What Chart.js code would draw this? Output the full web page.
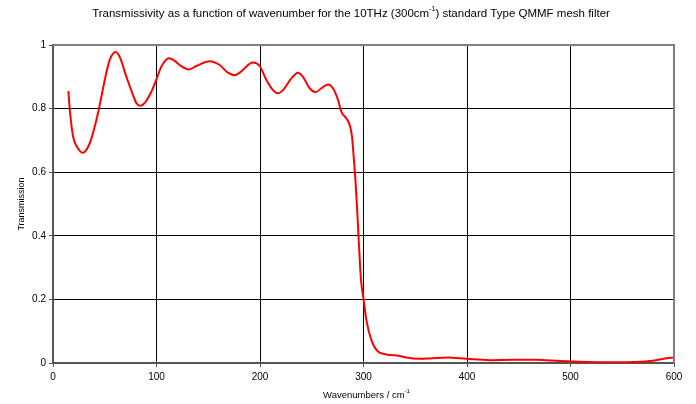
<!DOCTYPE html>
<html lang="en">
<head>
  <meta charset="UTF-8">
  <title>QMMF mesh filter transmission</title>
  <script src="https://cdn.jsdelivr.net/npm/chart.js"></script>
  <style>
    html, body { margin: 0; padding: 0; background: #fff; }
    #wrap { width: 696px; height: 404px; position: relative; }
  </style>
</head>
<body>
<div id="wrap"><canvas id="filterChart"></canvas></div>
<script>
// wavenumber (cm^-1) and transmission
const wavenumbers = [
  14.9, 16.1, 19.3, 23.2, 29, 35.5, 40.3, 44.5, 50, 54.8, 60.6, 65.1, 70.9, 76.7, 80.6, 84.4,
  89.6, 95, 99.9, 104.7, 112.1, 117.6, 122.4, 131.4, 138.5, 151.4, 161, 169, 175.6, 180.4,
  193.2, 199.7, 206.2, 212.6, 217.4, 222.2, 230.3, 236.7, 241.5, 248, 253.8, 259.3, 265.7,
  270.5, 275.4, 278.6, 283.5, 286.7, 288.9, 290.5, 292.2, 293.7, 295.7, 297.6, 300.2, 302.8,
  307.6, 314, 322.1, 335, 341.4, 354.3, 364, 381.6, 399.4, 422, 444.4, 467, 489.6, 515.4,
  537.9, 560.4, 579.7, 592.6, 600
];
const transmission = [
  0.855, 0.801, 0.714, 0.680, 0.661, 0.691, 0.743, 0.801, 0.890, 0.953, 0.978, 0.958, 0.900, 0.848, 0.817, 0.809,
  0.822, 0.853, 0.892, 0.932, 0.958, 0.950, 0.937, 0.923, 0.934, 0.949, 0.937, 0.913, 0.905, 0.913,
  0.945, 0.934, 0.890, 0.858, 0.848, 0.858, 0.895, 0.913, 0.900, 0.864, 0.852, 0.864, 0.876,
  0.864, 0.827, 0.790, 0.769, 0.748, 0.712, 0.649, 0.575, 0.492, 0.366, 0.261, 0.198, 0.135,
  0.072, 0.036, 0.027, 0.022, 0.017, 0.013, 0.014, 0.017, 0.013, 0.009, 0.010, 0.010, 0.006, 0.003,
  0.002, 0.003, 0.007, 0.015, 0.017
];
const xTicks = [0, 100, 200, 300, 400, 500, 600];
const yTicks = [0, 0.2, 0.4, 0.6, 0.8, 1];

const titleParts = ['Transmissivity as a function of wavenumber for the 10THz (300cm', '-1', ') standard Type QMMF mesh filter'];
const xTitleParts = ['Wavenumbers / cm', '-1', ''];
const yTitle = 'Transmission';

const FONT = '"Liberation Sans", Arial, sans-serif';

// draws a line of text with a superscript middle part, centred on cx
function drawSup(ctx, parts, cx, cy, size) {
  ctx.save();
  ctx.fillStyle = '#000';
  ctx.textBaseline = 'middle';
  ctx.textAlign = 'left';
  const big = size + 'px ' + FONT;
  const small = Math.round(size * 0.65) + 'px ' + FONT;
  ctx.font = big;
  const w0 = ctx.measureText(parts[0]).width;
  const w2 = ctx.measureText(parts[2]).width;
  ctx.font = small;
  const w1 = ctx.measureText(parts[1]).width;
  let x = cx - (w0 + w1 + w2) / 2;
  ctx.font = big;
  ctx.fillText(parts[0], x, cy);
  x += w0;
  ctx.font = small;
  ctx.fillText(parts[1], x, cy - size * 0.4);
  x += w1;
  ctx.font = big;
  ctx.fillText(parts[2], x, cy);
  ctx.restore();
}

const labelsPlugin = {
  id: 'labels',
  afterDraw(chart) {
    const ctx = chart.ctx;
    const a = chart.chartArea;
    // grey frame on top and right like the original
    ctx.save();
    ctx.strokeStyle = '#808080';
    ctx.lineWidth = 2;
    ctx.beginPath();
    ctx.moveTo(a.left, a.top);
    ctx.lineTo(a.right, a.top);
    ctx.lineTo(a.right, a.bottom);
    ctx.stroke();
    ctx.restore();

    drawSup(ctx, titleParts, 351, 14, 11.5);
    drawSup(ctx, xTitleParts, (a.left + a.right) / 2 + 3, 395, 9.5);

    ctx.save();
    ctx.fillStyle = '#000';
    ctx.font = '9px ' + FONT;
    ctx.textAlign = 'center';
    ctx.textBaseline = 'middle';
    ctx.translate(22, (a.top + a.bottom) / 2);
    ctx.rotate(-Math.PI / 2);
    ctx.fillText(yTitle, 0, 0);
    ctx.restore();
  }
};

new Chart(document.getElementById('filterChart'), {
  type: 'line',
  data: {
    datasets: [{
      data: wavenumbers.map((w, i) => ({ x: w, y: transmission[i] })),
      borderColor: '#ff0000',
      borderWidth: 2,
      pointRadius: 0,
      fill: false,
      tension: 0.4,
      cubicInterpolationMode: 'monotone'
    }]
  },
  options: {
    responsive: true,
    maintainAspectRatio: false,
    animation: false,
    layout: { padding: { top: 45, right: 22, left: 0, bottom: 0 } },
    plugins: {
      legend: { display: false },
      title: { display: false },
      tooltip: { enabled: false }
    },
    scales: {
      x: {
        type: 'linear',
        min: 0,
        max: 600,
        afterBuildTicks: s => { s.ticks = xTicks.map(v => ({ value: v })); },
        afterFit: s => { s.height = 41; },
        grid: { color: '#000', lineWidth: 1, tickLength: 4, tickColor: '#555' },
        border: { color: '#555', width: 2 },
        ticks: { color: '#000', font: { family: FONT, size: 10 }, padding: 4, maxRotation: 0,
          callback: v => String(v) }
      },
      y: {
        min: 0,
        max: 1,
        afterBuildTicks: s => { s.ticks = yTicks.map(v => ({ value: v })); },
        afterFit: s => { s.width = 53; },
        grid: { color: '#000', lineWidth: 1, tickLength: 4, tickColor: '#555' },
        border: { color: '#555', width: 2 },
        ticks: { color: '#000', font: { family: FONT, size: 10 }, padding: 3,
          callback: v => String(v) }
      }
    }
  },
  plugins: [labelsPlugin]
});
</script>
</body>
</html>
